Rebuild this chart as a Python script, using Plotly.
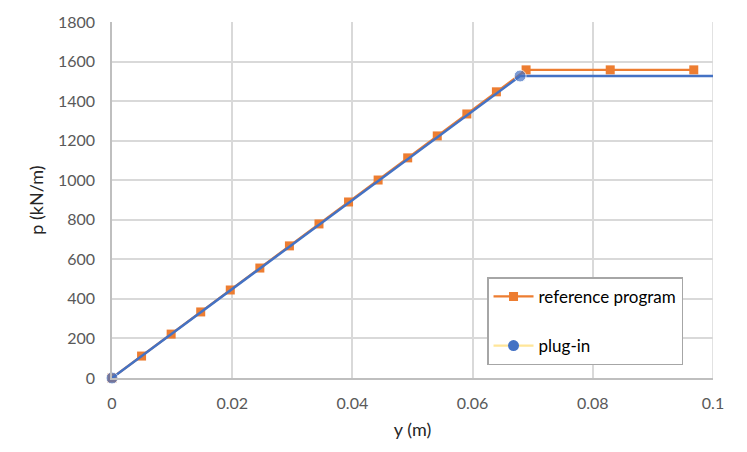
import plotly.graph_objects as go

# Data
ref_y = [0, 0.00492, 0.00984, 0.01476, 0.01968, 0.0246, 0.02952, 0.03444, 0.03936,
         0.04428, 0.0492, 0.05412, 0.05904, 0.06396, 0.0689, 0.0829, 0.0968]
ref_p = [0, 111, 222, 334, 445, 556, 668, 779, 890, 1001, 1113, 1224, 1335, 1447,
         1558, 1558, 1558]
plug_y = [0, 0.0679, 0.1]
plug_p = [0, 1527, 1527]
plug_marker_sizes = [12, 12, 0]

x_ticks = [0, 0.02, 0.04, 0.06, 0.08, 0.1]
x_tick_text = ["0", "0.02", "0.04", "0.06", "0.08", "0.1"]
y_ticks = [0, 200, 400, 600, 800, 1000, 1200, 1400, 1600, 1800]

ORANGE = "#ED7D31"
BLUE = "#4472C4"
PALE = "#FFE699"
FONT = "Lato"

fig = go.Figure()
fig.add_trace(go.Scatter(
    x=ref_y, y=ref_p, mode="lines+markers", name="reference program",
    line=dict(color=ORANGE, width=2.25),
    marker=dict(symbol="square", size=9, color=ORANGE),
    legendgroup="a", cliponaxis=False,
))
fig.add_trace(go.Scatter(
    x=plug_y, y=plug_p, mode="lines+markers", name="plug-in",
    line=dict(color=BLUE, width=2.5),
    marker=dict(symbol="circle", size=plug_marker_sizes, color=BLUE),
    showlegend=False, cliponaxis=False,
))
# legend-only entry replicating the original legend swatch (pale line, blue marker)
fig.add_trace(go.Scatter(
    x=[None], y=[None], mode="lines+markers", name="plug-in",
    line=dict(color=PALE, width=2.25),
    marker=dict(symbol="circle", size=11, color=BLUE),
    legendgroup="b",
))

fig.update_layout(
    width=747, height=452,
    margin=dict(l=112, r=34, t=17, b=74),
    paper_bgcolor="white", plot_bgcolor="white",
    font=dict(family=FONT, size=16, color="#595959"),
    showlegend=True,
    legend=dict(
        x=0.624, y=0.2825, xanchor="left", yanchor="top",
        bgcolor="white", bordercolor="#A6A6A6", borderwidth=1.5,
        font=dict(family=FONT, size=17, color="#000000"),
        tracegroupgap=24, itemwidth=40,
    ),
    xaxis=dict(
        range=[0, 0.1], tickvals=x_ticks, ticktext=x_tick_text,
        showgrid=True, gridcolor="#D9D9D9", gridwidth=1.5,
        showline=True, linecolor="#BFBFBF", linewidth=1.5,
        zeroline=False, ticks="", ticklabelstandoff=10,
        tickfont=dict(family=FONT, size=16, color="#595959"),
        title=dict(text="y (m)", font=dict(family=FONT, size=18, color="#262626"), standoff=12),
    ),
    yaxis=dict(
        range=[0, 1800], tickvals=y_ticks,
        showgrid=True, gridcolor="#D9D9D9", gridwidth=1.5,
        showline=True, linecolor="#BFBFBF", linewidth=1.5,
        zeroline=False, ticks="", ticklabelstandoff=12,
        tickfont=dict(family=FONT, size=16, color="#595959"),
        title=dict(text="p (kN/m)", font=dict(family=FONT, size=18, color="#262626"), standoff=10),
    ),
)
fig.add_shape(type="line", xref="x", yref="paper", x0=0.1, x1=0.1, y0=0, y1=1,
              line=dict(color="#D9D9D9", width=1.5), layer="below")

fig.write_html("out.html")
